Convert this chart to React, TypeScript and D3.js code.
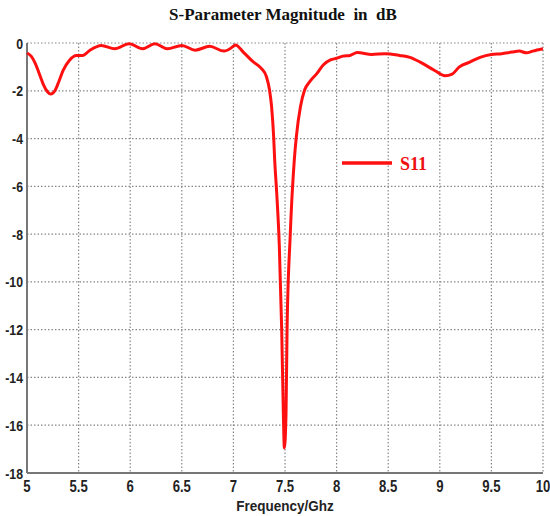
import React from "react";
import * as d3 from "d3";

const freq = [
  5.0, 5.04, 5.08, 5.12, 5.16, 5.2, 5.23, 5.27, 5.31, 5.35, 5.41, 5.48, 5.54, 5.61, 5.72, 5.85, 5.99,
  6.12, 6.24, 6.36, 6.5, 6.63, 6.77, 6.91, 7.0, 7.02, 7.1, 7.19, 7.27, 7.32, 7.35, 7.37, 7.39, 7.4,
  7.42, 7.445, 7.468, 7.484, 7.494, 7.51, 7.52, 7.55, 7.59, 7.61, 7.65, 7.69, 7.74, 7.81, 7.87,
  7.94, 8.0, 8.06, 8.13, 8.2, 8.34, 8.47, 8.61, 8.71, 8.81, 8.95, 9.05, 9.12, 9.19, 9.29, 9.39,
  9.5, 9.6, 9.7, 9.77, 9.84, 9.9, 10.0,
];
const s11 = [
  -0.42, -0.55, -0.85, -1.3, -1.75, -2.05, -2.14, -2.0, -1.6, -1.15, -0.73, -0.52, -0.52, -0.3,
  -0.1, -0.24, -0.03, -0.24, -0.03, -0.24, -0.1, -0.3, -0.14, -0.34, -0.14, -0.08, -0.4, -0.78,
  -1.06, -1.41, -1.97, -2.66, -3.92, -4.9, -6.3, -8.5, -12, -15.5, -16.95, -15.5, -12, -8.1, -4.9,
  -3.92, -2.66, -1.97, -1.62, -1.27, -0.92, -0.71, -0.64, -0.55, -0.52, -0.4, -0.48, -0.45, -0.52,
  -0.6, -0.8, -1.15, -1.37, -1.3, -1.0, -0.8, -0.6, -0.48, -0.45, -0.38, -0.34, -0.41, -0.34, -0.24,
];
const xTicks = [5, 5.5, 6, 6.5, 7, 7.5, 8, 8.5, 9, 9.5, 10];
const yTicks = [0, -2, -4, -6, -8, -10, -12, -14, -16, -18];
const seriesName = "S11";
const title = "S-Parameter Magnitude  in  dB";
const xLabel = "Frequency/Ghz";

export default function App() {
  const W = 550, H = 516;
  const left = 27, right = 543, top = 43, bottom = 473;
  const x = d3.scaleLinear().domain([5, 10]).range([left, right]);
  const y = d3.scaleLinear().domain([-18, 0]).range([bottom, top]);
  const pts: [number, number][] = freq.map((f, i) => [f, s11[i]]);
  const line = d3
    .line<[number, number]>()
    .x((d) => x(d[0]))
    .y((d) => y(d[1]))
    .curve(d3.curveMonotoneX);
  const sans = "Liberation Sans, Arial, sans-serif";
  const serif = "Liberation Serif, Times New Roman, serif";
  return (
    <svg
      width={W}
      height={H}
      style={{ position: "absolute", left: 0, top: 0, background: "#fff" }}
    >
      <text
        x={283}
        y={20}
        textAnchor="middle"
        fontFamily={serif}
        fontWeight="bold"
        fontSize={17}
        fill="#111"
        style={{ whiteSpace: "pre" }}
      >
        {title}
      </text>
      {/* grid */}
      {xTicks.map((t) => (
        <line
          key={"gx" + t}
          x1={x(t)}
          x2={x(t)}
          y1={top}
          y2={bottom}
          stroke="#888"
          strokeWidth={1.2}
          strokeDasharray="1.5,2"
        />
      ))}
      {yTicks.map((t) => (
        <line
          key={"gy" + t}
          x1={left}
          x2={right}
          y1={y(t)}
          y2={y(t)}
          stroke="#888"
          strokeWidth={1.2}
          strokeDasharray="1.5,2"
        />
      ))}
      {/* axes */}
      <line x1={left} x2={left} y1={top} y2={bottom} stroke="#777" strokeWidth={2} />
      <line x1={left} x2={right} y1={bottom} y2={bottom} stroke="#777" strokeWidth={2} />
      {xTicks.map((t) => (
        <text
          key={"xt" + t}
          transform={`translate(${x(t)},492) scale(0.82,1)`}
          textAnchor="middle"
          fontFamily={sans}
          fontWeight="bold"
          fontSize={16}
          fill="#222"
        >
          {String(t)}
        </text>
      ))}
      {yTicks.map((t) => (
        <text
          key={"yt" + t}
          transform={`translate(23,${y(t) + 5.5}) scale(0.82,1)`}
          textAnchor="end"
          fontFamily={sans}
          fontWeight="bold"
          fontSize={15}
          fill="#222"
        >
          {String(t)}
        </text>
      ))}
      <text
        transform="translate(285,511) scale(0.9,1)"
        textAnchor="middle"
        fontFamily={sans}
        fontWeight="bold"
        fontSize={15}
        fill="#222"
      >
        {xLabel}
      </text>
      {/* data */}
      <path d={line(pts) || ""} fill="none" stroke="#ff1010" strokeWidth={3} strokeLinejoin="round" />
      {/* legend */}
      <line x1={342} x2={392} y1={163} y2={163} stroke="#ff1010" strokeWidth={3.5} />
      <text
        x={400}
        y={170}
        fontFamily={serif}
        fontWeight="bold"
        fontSize={18}
        fill="#ee1010"
      >
        {seriesName}
      </text>
    </svg>
  );
}
